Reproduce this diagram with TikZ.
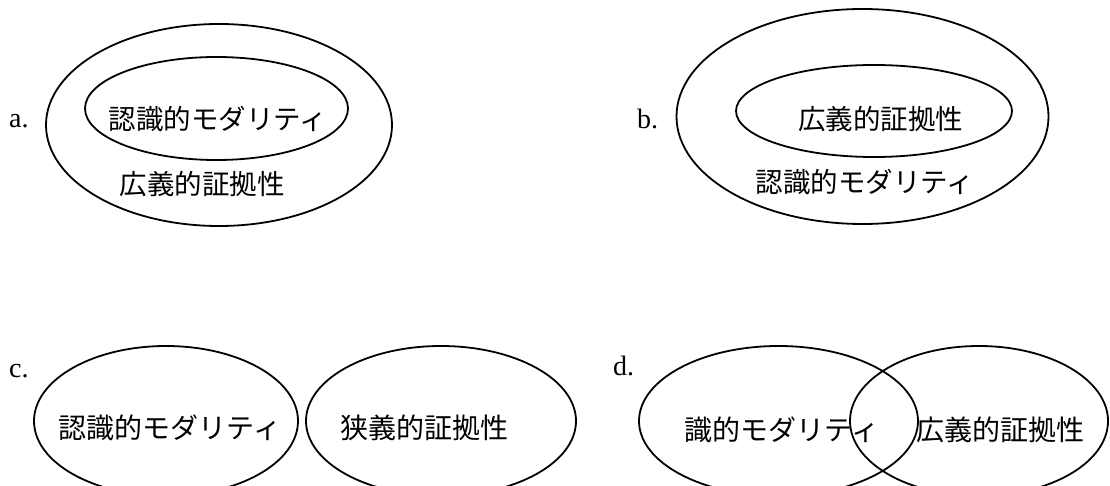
\documentclass[tikz,border=0pt]{standalone}
\usepackage{fontspec}
\setmainfont{Liberation Serif}
\newfontfamily\jp{Noto Sans CJK JP}
\usetikzlibrary{shapes.geometric}
\tikzset{
  ell/.style={ellipse, draw, line width=1.8pt, inner sep=0pt, outer sep=0pt},
  jbig/.style={font=\jp\fontsize{27.5}{30}\selectfont, inner sep=0pt},
  jsmall/.style={font=\jp\fontsize{28}{30}\selectfont, inner sep=0pt},
  lab/.style={font=\fontsize{28}{30}\selectfont, inner sep=0pt, anchor=base west},
}
\begin{document}
\begin{tikzpicture}[x=1pt,y=-1pt]
\useasboundingbox (0,0) rectangle (1110,486);
% a
\node[lab] (la) at (9,128) {a.};
\node[ell, minimum width=346pt, minimum height=202pt] (aout) at (219,125) {};
\node[ell, minimum width=263pt, minimum height=103pt] (ain) at (216.5,108.5) {};
\node[jbig] (ta1) at (218,119) {認識的モダリティ};
\node[jbig] (ta2) at (202,184) {広義的証拠性};
% b
\node[lab] (lb) at (637,129) {b.};
\node[ell, minimum width=372pt, minimum height=215pt] (bout) at (862.5,116.5) {};
\node[ell, minimum width=276pt, minimum height=92pt] (bin) at (874,111) {};
\node[jbig] (tb1) at (880.5,119.5) {広義的証拠性};
\node[jbig] (tb2) at (865,182) {認識的モダリティ};
% c
\node[lab] (lc) at (9,377) {c.};
\node[ell, minimum width=264pt, minimum height=150pt] (cl) at (166,421) {};
\node[ell, minimum width=270pt, minimum height=150pt] (cr) at (441,421) {};
\node[jsmall] (tc1) at (170,428) {認識的モダリティ};
\node[jsmall] (tc2) at (424,428) {狭義的証拠性};
% d
\node[lab] (ld) at (613,375) {d.};
\node[ell, minimum width=279pt, minimum height=150pt] (dl) at (778.5,421) {};
\node[ell, minimum width=258pt, minimum height=150pt] (dr) at (979,421) {};
\node[jsmall] (td1) at (782,429.5) {識的モダリティ};
\node[jsmall] (td2) at (1000,429.5) {広義的証拠性};
\end{tikzpicture}
\end{document}
